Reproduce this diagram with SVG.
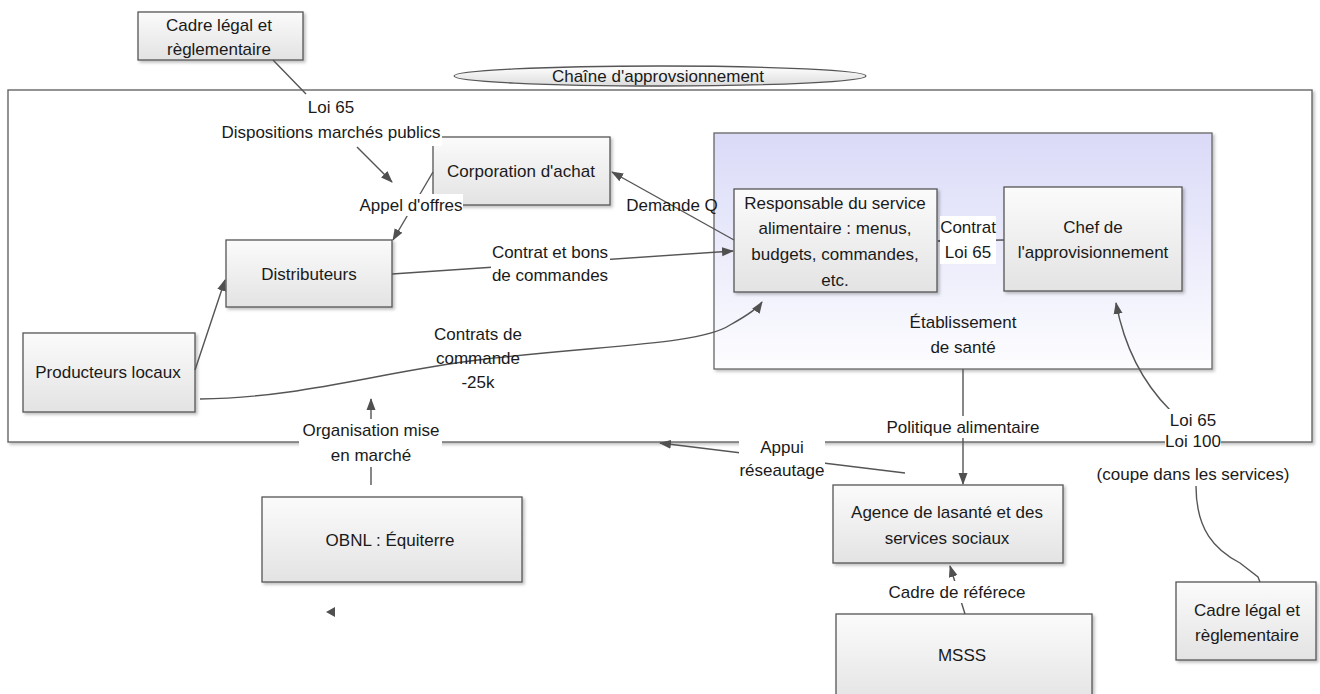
<svg xmlns="http://www.w3.org/2000/svg" width="1320" height="694" viewBox="0 0 1320 694">
<defs>
<linearGradient id="boxg" x1="0" y1="0" x2="0" y2="1"><stop offset="0" stop-color="#fbfbfb"/><stop offset="1" stop-color="#e3e3e3"/></linearGradient>
<linearGradient id="estg" x1="0" y1="0" x2="0" y2="1"><stop offset="0" stop-color="#dadaf8"/><stop offset="1" stop-color="#fdfdff"/></linearGradient>
<linearGradient id="elg" x1="0" y1="0" x2="0" y2="1"><stop offset="0" stop-color="#ffffff"/><stop offset="1" stop-color="#dcdcdc"/></linearGradient>
<filter id="sh" x="-5%" y="-5%" width="115%" height="125%"><feDropShadow dx="2" dy="2" stdDeviation="1.5" flood-color="#000" flood-opacity="0.25"/></filter>
<marker id="ah" viewBox="0 0 12 10" refX="11" refY="5" markerWidth="12" markerHeight="10" markerUnits="userSpaceOnUse" orient="auto"><path d="M0,0.5 L12,5 L0,9.5 z" fill="#505050"/></marker>
</defs>
<style>
text{font-family:"Liberation Sans",Arial,sans-serif;font-size:17px;fill:#1a1a1a;text-anchor:middle}
.box{fill:url(#boxg);stroke:#555;stroke-width:1.3;filter:url(#sh)}
.c{fill:none;stroke:#555;stroke-width:1.4}
.a{marker-end:url(#ah)}
.bg{fill:#fff}
</style>

<g id="chaine">
<rect x="8" y="90" width="1304" height="352" fill="#fff" stroke="#666" stroke-width="1.4" filter="url(#sh)"/>
<ellipse cx="660" cy="76" rx="206" ry="10" fill="url(#elg)" stroke="#555" stroke-width="1.3"/>
<text x="658" y="82">Chaîne d'approvsionnement</text>
</g>

<g id="etablissement">
<rect x="714" y="133" width="498" height="236" fill="url(#estg)" stroke="#666" stroke-width="1.3" filter="url(#sh)"/>
<text x="963" y="328">Établissement</text>
<text x="963" y="353">de santé</text>
</g>

<g id="cadre-top"><rect class="box" x="138" y="12" width="165" height="48"/><text x="219" y="31">Cadre légal et</text><text x="219" y="55">règlementaire</text></g>
<g id="corporation"><rect class="box" x="433" y="137" width="177" height="68"/><text x="521" y="177">Corporation d'achat</text></g>
<g id="distributeurs"><rect class="box" x="226" y="240" width="166" height="67"/><text x="309" y="280">Distributeurs</text></g>
<g id="producteurs"><rect class="box" x="23" y="333" width="172" height="79"/><text x="108" y="378">Producteurs locaux</text></g>
<g id="responsable"><rect class="box" x="734" y="189" width="203" height="103"/><text x="835" y="209">Responsable du service</text><text x="835" y="234">alimentaire : menus,</text><text x="835" y="260">budgets, commandes,</text><text x="835" y="286">etc.</text></g>
<g id="chef"><rect class="box" x="1004" y="187" width="178" height="104"/><text x="1093" y="233">Chef de</text><text x="1093" y="258">l'approvisionnement</text></g>
<g id="obnl"><rect class="box" x="262" y="497" width="260" height="85"/><text x="390" y="546">OBNL : Équiterre</text></g>
<g id="agence"><rect class="box" x="833" y="485" width="230" height="78"/><text x="947" y="518">Agence de lasanté et des</text><text x="947" y="544">services sociaux</text></g>
<g id="msss"><rect class="box" x="836" y="614" width="256" height="92"/><text x="962" y="661">MSSS</text></g>
<g id="cadre-bottom"><rect class="box" x="1176" y="582" width="140" height="78"/><text x="1247" y="616">Cadre légal et</text><text x="1247" y="641">règlementaire</text></g>

<g id="connectors">
<path class="c" d="M273,60 L306,94"/>
<path class="c a" d="M357,147 L392,182"/>
<path class="c a" d="M433,172 L393,240"/>
<path class="c a" d="M734,240 L612,172"/>
<path class="c a" d="M392,274 L733,251"/>
<path class="c a" d="M195,370 L225,280"/>
<path class="c a" d="M200,399 C300,398 380,372 478,360 C600,345 700,345 730,325 C748,315 758,308 762,302"/>
<path class="c a" d="M1004,240 L938,241"/>
<path class="c a" d="M963,369 L963,484"/>
<path class="c a" d="M905,473 L660,443"/>
<path class="c a" d="M371,485 L371,399"/>
<path class="c a" d="M965,614 L950,566"/>
<path class="c a" d="M1170,410 C1145,385 1125,350 1116,303"/>
<path class="c" d="M1196,486 C1196,530 1215,550 1240,563 L1258,577 L1260,582"/>
<polygon points="326,612 335,607 335,617" fill="#505050"/>

<rect class="bg" x="305" y="97" width="51" height="20"/>
<text x="331" y="113">Loi 65</text>
<rect class="bg" x="220" y="121" width="222" height="25"/>
<text x="331" y="138">Dispositions marchés publics</text>
<rect class="bg" x="359" y="194" width="104" height="22"/>
<text x="411" y="211">Appel d'offres</text>
<text x="672" y="211">Demande Q</text>
<rect class="bg" x="491" y="241" width="119" height="46"/>
<text x="550" y="258">Contrat et bons</text>
<text x="550" y="281">de commandes</text>
<text x="478" y="340">Contrats de</text>
<text x="478" y="364">commande</text>
<text x="478" y="388">-25k</text>
<rect class="bg" x="940" y="216" width="56" height="48"/>
<text x="968" y="233">Contrat</text>
<text x="968" y="258">Loi 65</text>
<rect class="bg" x="884" y="416" width="158" height="22"/>
<text x="963" y="433">Politique alimentaire</text>
<rect class="bg" x="739" y="436" width="86" height="46"/>
<text x="782" y="453">Appui</text>
<text x="782" y="476">réseautage</text>
<rect class="bg" x="299" y="419" width="143" height="48"/>
<text x="371" y="436">Organisation mise</text>
<text x="371" y="461">en marché</text>
<rect class="bg" x="1165" y="409" width="56" height="42"/>
<text x="1193" y="426">Loi 65</text>
<text x="1193" y="447">Loi 100</text>
<rect class="bg" x="1101" y="463" width="184" height="22"/>
<text x="1193" y="480">(coupe dans les services)</text>
<rect class="bg" x="896" y="581" width="123" height="22"/>
<text x="957" y="598">Cadre de référece</text>
</g>
</svg>
